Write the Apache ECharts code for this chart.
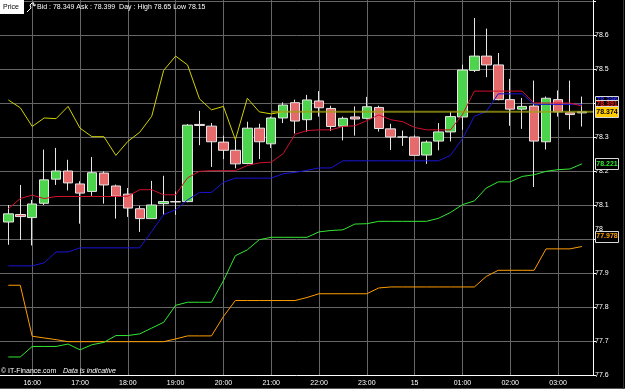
<!DOCTYPE html>
<html><head><meta charset="utf-8">
<script src="https://cdn.jsdelivr.net/npm/echarts@6/dist/echarts.min.js"></script>
<style>html,body{margin:0;padding:0;background:#000;}#c{width:625px;height:389px;}</style>
</head><body><div id="c"></div>
<script>
// ---- data ----
const times = ['15:30','15:45','16:00','16:15','16:30','16:45','17:00','17:15','17:30','17:45',
  '18:00','18:15','18:30','18:45','19:00','19:15','19:30','19:45','20:00','20:15',
  '20:30','20:45','21:00','21:15','21:30','21:45','22:00','22:15','22:30','22:45',
  '23:00','23:15','23:30','23:45','00:00','00:15','00:30','00:45','01:00','01:15',
  '01:30','01:45','02:00','02:15','02:30','02:45','03:00','03:15','03:30'];
const opens  = [78.050,78.072,78.063,78.105,78.176,78.200,78.162,78.140,78.194,78.156,
  78.132,78.089,78.060,78.104,78.110,78.110,78.337,78.332,78.285,78.261,
  78.222,78.326,78.280,78.356,78.401,78.351,78.406,78.384,78.332,78.359,
  78.355,78.387,78.324,78.300,78.300,78.247,78.288,78.315,78.359,78.496,
  78.538,78.512,78.410,78.382,78.391,78.286,78.410,78.371,78.371];
const closes = [78.074,78.066,78.103,78.174,78.200,78.165,78.135,78.195,78.159,78.126,
  78.091,78.060,78.100,78.110,78.109,78.335,78.334,78.286,78.261,78.221,
  78.326,78.286,78.356,78.394,78.347,78.409,78.386,78.331,78.355,78.353,
  78.389,78.325,78.300,78.300,78.246,78.285,78.315,78.360,78.497,78.538,
  78.512,78.410,78.382,78.390,78.288,78.414,78.374,78.366,78.374];
const lows   = [77.983,77.997,77.981,78.100,78.159,78.143,78.045,78.127,78.104,78.060,
  78.065,78.021,78.060,78.071,78.071,78.108,78.276,78.212,78.235,78.208,
  78.220,78.235,78.268,78.341,78.310,78.316,78.360,78.318,78.290,78.304,
  78.352,78.316,78.262,78.274,78.246,78.221,78.261,78.287,78.321,78.491,
  78.476,78.408,78.333,78.324,78.153,78.263,78.360,78.322,78.331];
const highs  = [78.100,78.159,78.115,78.263,78.268,78.233,78.170,78.241,78.199,78.160,
  78.150,78.098,78.171,78.186,78.140,78.338,78.377,78.341,78.304,78.292,
  78.345,78.339,78.360,78.402,78.410,78.424,78.435,78.392,78.360,78.390,
  78.418,78.392,78.339,78.319,78.305,78.290,78.341,78.374,78.513,78.650,
  78.619,78.547,78.471,78.415,78.466,78.419,78.437,78.466,78.419];
const yellowLine = [78.409,78.386,78.331,78.356,78.354,78.390,78.326,78.301,78.301,78.246,
  78.287,78.314,78.361,78.496,78.538,78.512,78.412,78.380,78.390,78.292,
  78.414,78.374,78.368,78.374];
const redLine = [78.089,78.119,78.129,78.119,78.125,78.125,78.125,78.125,78.125,78.125,
  78.126,78.145,78.145,78.130,78.130,78.180,78.199,78.201,78.201,78.201,
  78.216,78.224,78.226,78.251,78.308,78.319,78.321,78.321,78.331,78.333,
  78.348,78.365,78.351,78.345,78.328,78.321,78.321,78.321,78.366,78.435,
  78.435,78.435,78.435,78.435,78.400,78.400,78.400,78.400,78.391];
const blueLine = [77.921,77.921,77.921,77.930,77.962,77.962,77.974,77.974,77.974,77.974,
  77.974,77.974,78.022,78.072,78.086,78.115,78.137,78.137,78.167,78.179,
  78.179,78.179,78.179,78.192,78.196,78.202,78.209,78.209,78.230,78.230,
  78.230,78.230,78.230,78.230,78.230,78.230,78.230,78.246,78.295,78.361,
  78.375,78.427,78.427,78.427,78.396,78.396,78.396,78.396,78.396];
const greenLine = [77.653,77.653,77.684,77.684,77.684,77.691,77.674,77.689,77.696,77.716,
  77.716,77.721,77.738,77.755,77.805,77.814,77.814,77.814,77.877,77.951,
  77.968,77.998,78.005,78.005,78.005,78.005,78.021,78.025,78.027,78.044,
  78.045,78.052,78.052,78.052,78.052,78.052,78.061,78.078,78.101,78.112,
  78.150,78.168,78.168,78.184,78.189,78.199,78.204,78.206,78.221];
const orangeLine = [77.864,77.864,77.714,77.709,77.704,77.698,77.698,77.698,77.698,77.698,
  77.698,77.698,77.698,77.698,77.706,77.715,77.715,77.715,77.772,77.819,
  77.819,77.819,77.819,77.819,77.819,77.828,77.839,77.839,77.839,77.839,
  77.839,77.856,77.859,77.859,77.859,77.859,77.859,77.859,77.859,77.859,
  77.890,77.908,77.908,77.908,77.908,77.971,77.971,77.971,77.978];
const lastPrice = 78.374;
const lastPriceFrom = '21:00';
const boxLabels = {blue:'78.396', red:'78.391', yellow:'78.374', green:'78.221', orange:'77.978'};
const hourTicks = [16,17,18,19,20,21,22,23,24,25,26,27];
const hourLabels = ['16:00','17:00','18:00','19:00','20:00','21:00','22:00','23:00','15','01:00','02:00','03:00'];
const yTicks = [77.6,77.7,77.8,77.9,78.0,78.1,78.2,78.3,78.4,78.5,78.6,78.7];
const yLabelVals = [77.6,77.7,77.8,77.9,78.0,78.1,78.2,78.3,78.4,78.5,78.6];
const headerText = 'Bid : 78.349 Ask : 78.399  Day : High 78.65 Low 78.15';

// ---- helpers ----
function toHour(s){ let h=+s.slice(0,2), m=+s.slice(3,5); if(h<12) h+=24; return h+m/60; }
const xs = times.map(toHour);
const pairs = arr => arr.map((v,i)=>[xs[i], v]);
const candles = times.map((t,i)=>[xs[i], opens[i], closes[i], lows[i], highs[i]]);
const XMIN = 15.326, XMAX = 27.732;
const FONT = 'Liberation Sans';
const GRID = '#666666';

const chart = echarts.init(document.getElementById('c'), null, {renderer:'canvas'});
function lineSeries(arr, color, z){
  return {type:'line', data:pairs(arr), showSymbol:false, symbol:'none', z:z||3,
    lineStyle:{color:color, width:1}, itemStyle:{color:color}, animation:false, silent:true};
}
chart.setOption({
  backgroundColor:'#000',
  animation:false,
  grid:{left:0, top:0, width:593, height:375},
  xAxis:{type:'value', min:XMIN, max:XMAX, position:'bottom',
    axisLine:{show:true, onZero:false, lineStyle:{color:'#ffffff', width:1}},
    axisTick:{show:false, customValues:hourTicks},
    axisLabel:{customValues:hourTicks, color:'#fff', fontSize:7, fontFamily:FONT, margin:5,
      formatter:v=>{const i=hourTicks.indexOf(Math.round(v)); return i>=0?hourLabels[i]:'';}},
    splitLine:{show:true, lineStyle:{color:GRID, width:1}}},
  yAxis:{type:'value', min:77.6, max:78.703, position:'right',
    axisLine:{show:true, lineStyle:{color:'#ffffff', width:1}},
    axisTick:{show:true, length:3, customValues:yTicks, lineStyle:{color:'#fff'}},
    axisLabel:{customValues:yLabelVals, color:'#fff', fontSize:7, fontFamily:FONT, margin:2,
      formatter:v=>{const s=String(+(+v).toFixed(1)); return s==='78'?'{up|78}':s;},
      rich:{up:{color:'#fff', fontSize:7, fontFamily:FONT, padding:[0,0,20,0]}}},
    splitLine:{show:true, lineStyle:{color:GRID, width:1}}},
  series:[
    {type:'candlestick', data:candles, encode:{x:0, y:[1,2,3,4]}, barWidth:10, z:2,
      itemStyle:{color:'#4cd44c', color0:'#e56a6c', borderColor:'#e6e6e6', borderColor0:'#e6e6e6', borderWidth:1}},
    lineSeries(orangeLine,'#ff9d00'),
    lineSeries(greenLine,'#33e833'),
    lineSeries(blueLine,'#1a14d6'),
    lineSeries(redLine,'#d0102c'),
    lineSeries(yellowLine,'#d2d200'),
    {type:'line', data:[[toHour(lastPriceFrom), lastPrice],[XMAX, lastPrice]], showSymbol:false, z:4,
      lineStyle:{color:'rgba(160,160,20,0.75)', width:2}, silent:true}
  ]
});

// ---- overlay boxes & texts ----
const py = v => chart.convertToPixel({yAxisIndex:0}, v);
const pB = py(+boxLabels.blue), pR = py(+boxLabels.red), pY = py(+boxLabels.yellow),
      pG = py(+boxLabels.green), pO = py(+boxLabels.orange);
function box(cy, h, fill, txt, tcolor, z){
  return [
    {type:'rect', shape:{x:595.5, y:Math.round(cy-h/2)+0.5, width:23, height:h}, z:z,
      style:{fill:fill, stroke:'#d8d8d8', lineWidth:1}},
    {type:'text', x:607, y:Math.round(cy)+0.5, z:z+1,
      style:{text:txt, fill:tcolor, font:'bold 7px '+FONT, textAlign:'center', textVerticalAlign:'middle'}}
  ];
}
const g = [].concat(
  box(pB-4, 9, '#000', boxLabels.blue, '#2a2aff', 10),
  box(pR-2, 9, '#000', boxLabels.red, '#ff1a1a', 12),
  box(pY, 11, '#ffcc00', boxLabels.yellow, '#000', 14),
  box(pG, 11, '#000', boxLabels.green, '#33e833', 10),
  box(pO-10, 11, '#000', boxLabels.orange, '#ff9d00', 10),
  [
    {type:'rect', shape:{x:0, y:0, width:24, height:14}, z:20, style:{fill:'#fff'}},
    {type:'text', x:3, y:7, z:21, style:{text:'Price', fill:'#000', font:'7px '+FONT, textVerticalAlign:'middle'}},
    {type:'polyline', z:21, shape:{points:[[27,12],[31,8],[30,5],[32,3],[34,3],[33,5],[35,6],[35,4]]},
      style:{stroke:'#fff', lineWidth:1, fill:null}},
    {type:'text', x:37, y:7, z:21, style:{text:headerText, fill:'#fff', font:'7px '+FONT, textVerticalAlign:'middle'}},
    {type:'text', x:1, y:371, z:21, style:{text:'{a|© IT-Finance.com}  {b|Data is indicative}', textVerticalAlign:'middle',
      rich:{a:{fill:'#fff', font:'7px '+FONT}, b:{fill:'#fff', font:'italic 7px '+FONT}}}},
    {type:'line', z:1, shape:{x1:0, y1:388.5, x2:625, y2:388.5}, style:{stroke:'#555', lineWidth:1}},
    {type:'line', z:1, shape:{x1:623.5, y1:0, x2:623.5, y2:389}, style:{stroke:'#333', lineWidth:1}}
  ]
);
chart.setOption({graphic:g});
</script>
</body></html>
